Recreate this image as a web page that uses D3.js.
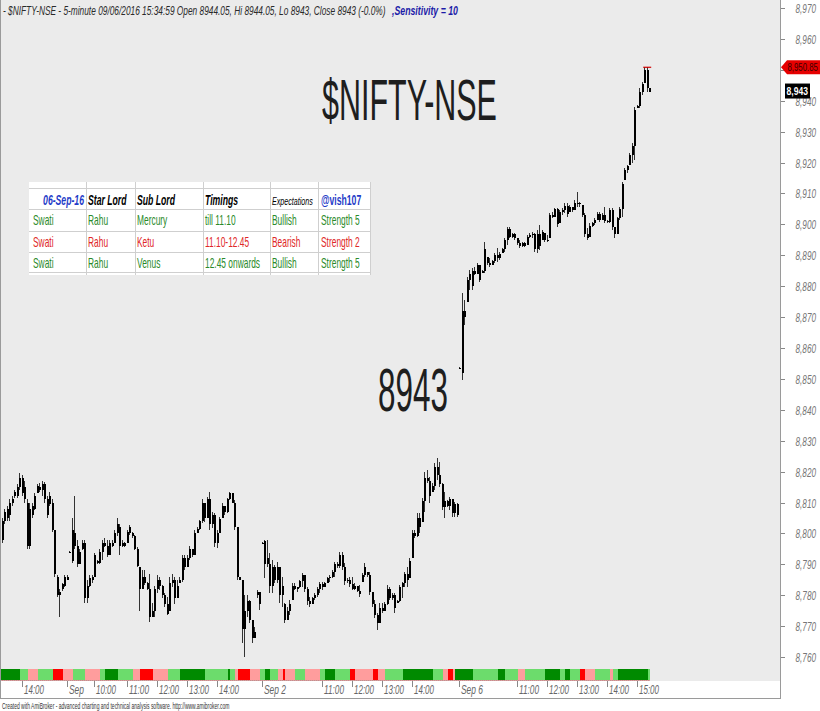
<!DOCTYPE html>
<html><head><meta charset="utf-8">
<script src="https://cdn.jsdelivr.net/npm/d3@7"></script>
<style>body{margin:0;background:#fff}svg{display:block}</style>
</head><body><svg id="c" width="820" height="711"></svg>
<script>
// ---------------- DATA ----------------
const aug31Bars = [
[8798,8805,8797,8804],[8804,8808,8803,8807],[8805,8809,8804,8808],[8806,8811,8804,8810],
[8810,8812,8809,8811],[8812,8814,8811.5,8813.5],[8812,8816,8811.5,8815],[8815,8819.5,8814,8818],
[8818,8819,8812,8813],[8815,8817,8810,8811],[8810,8811,8795,8796],[8796,8810,8795,8808],
[8806,8810,8805,8809],[8808,8813,8807.5,8812],[8813,8816,8813,8815.5],[8815,8816.3,8813.4,8814],
[8814,8817,8812,8816],[8816,8816.5,8810,8811],[8811,8812,8805,8806],[8809.5,8813.5,8809,8812],
[8810,8811,8800.5,8801],[8801,8801,8786,8787],[8786,8786.5,8779.5,8780],[8780,8782,8773,8781],
[8782,8784,8781.5,8783.5],[8783,8786.5,8782.5,8786]
];
const sep1Bars = [
[8785,8786.5,8785,8786],[8794,8794.3,8793.7,8794],[8791,8805,8790.5,8801],[8800,8812,8795,8796],
[8796,8798,8789,8790],[8790,8795,8790,8794],[8795,8798,8794.5,8797],[8797,8798,8777.5,8779],
[8779,8785,8777.5,8783],[8783,8786.5,8782.5,8785.5],[8785,8786.5,8784,8786],[8786,8793.7,8786,8793],
[8791,8791.5,8790,8790.5],[8790.5,8795,8790,8794],[8794,8798,8791.5,8797],[8797,8798.5,8795.5,8796],
[8796,8798,8792.5,8793],[8793,8797.9,8793,8797],[8797,8797.9,8795.6,8796],[8797,8801,8797,8800],
[8800,8805,8799,8803],[8802,8803,8793,8796],[8796,8797.9,8795.6,8797],[8797,8797.2,8795.6,8796],
[8797,8801,8797,8800.5],[8800,8802.7,8799.5,8802],[8800,8800.5,8798.5,8799],[8799,8799.5,8794.6,8795],
[8795,8795.6,8789,8789.5],[8789,8789,8775,8782],[8782,8788,8782,8786],[8786,8788,8783.3,8784],
[8784,8784.3,8781.7,8782],[8782,8787,8771.3,8773],[8773,8777.5,8773,8775],[8775,8783,8773,8782],
[8782,8786.5,8780.7,8785],[8785,8785.9,8781.7,8783],[8783,8783.3,8779,8780],[8780,8780.7,8776.2,8777],
[8777,8779.4,8773.6,8774],[8775,8786,8775,8784],[8784,8787,8782.7,8785],[8785,8786,8777,8779],
[8779,8785,8779,8783],[8784,8786,8783.9,8785],[8785,8793,8784.3,8792],[8792,8793,8788,8789],
[8789,8793,8789,8792],[8792,8796,8791.4,8795],[8795,8795,8792.4,8793],[8793,8801,8793,8800],
[8800,8802,8800,8801.5],[8801.5,8804.3,8801,8804],[8804,8811,8803.4,8810],[8810,8810,8803.7,8805],
[8805,8811.8,8805,8811],[8811,8813.4,8801,8803],[8803,8807,8801.7,8806],[8806,8806.6,8795.6,8797],
[8797,8801,8795.3,8800],[8800,8805.3,8800,8804.5],[8805,8809.8,8805,8809],[8809,8809,8806,8807],
[8807,8811.5,8806.6,8811],[8811,8813.4,8810.8,8813],[8813,8813,8809.8,8810],[8810,8810.8,8801,8802],
[8802,8802,8785,8786],[8785.9,8786,8784.9,8785],[8785,8785,8764.5,8769],[8769,8780,8760,8775],
[8775,8780,8773,8778],[8778,8778.4,8771,8772],[8772,8772,8764.5,8766],[8766,8769.7,8766,8768],
[8780,8781.7,8779,8781],[8781,8781,8775.2,8777]
];
const sep2Bars = [
[8797,8797.2,8796.8,8797],[8797.5,8798,8785.6,8790],[8792,8798,8789,8790],[8790,8793.7,8780.7,8783],
[8783,8791.4,8780.7,8789],[8789,8789.8,8783.9,8785],[8785,8790.7,8784,8789],[8789,8789,8777.5,8780],
[8780,8785.9,8776.2,8783],[8777,8777.5,8771,8772],[8772,8776.2,8772,8775],[8775,8778.4,8773.6,8777],
[8778.4,8783.9,8778.4,8783],[8783,8783.9,8781.7,8782],[8782,8782.7,8781,8782.5],[8782.5,8785,8782.3,8784.5],
[8784.5,8787.2,8782.7,8786.5],[8786.5,8786.5,8781,8782],[8782,8782.7,8776.8,8778],[8778,8779.4,8776.2,8777],
[8777,8779.4,8777,8779],[8779,8780.7,8778.4,8780],[8780,8782.7,8779.4,8782],[8782,8784.3,8780.7,8783.5],
[8783.5,8784.3,8781.7,8782.5],[8782.5,8784.3,8782.5,8784],[8784,8785.9,8783.9,8785.5],[8785.5,8786.5,8784.3,8786],
[8786,8788.2,8785.6,8787.5],[8787.5,8790.7,8785.9,8790],[8790,8790.7,8788.8,8789.5],[8789.5,8794,8788.8,8793],
[8793,8794,8788.2,8789],[8789,8790.4,8783.3,8784.5],[8784.5,8785.6,8783.9,8785],[8785,8785.9,8782.7,8783.5],
[8783.5,8785.9,8781.7,8782],[8782,8783.9,8781.7,8783],[8783,8783,8781,8781.5],[8781.5,8783.3,8779.4,8780.5],
[8784.3,8787.2,8784.3,8786.5],[8786.5,8790.4,8785.9,8789],[8787.5,8787.5,8785.9,8786.5],[8786.5,8787.5,8780.1,8781],
[8781,8781,8776.2,8777],[8777,8778.4,8772.6,8773.5],[8773.5,8774.2,8768.7,8771],[8771,8777.5,8771,8776],
[8776,8777.5,8774.2,8775],[8775,8777.8,8775,8777],[8777,8783.3,8776.8,8782],[8782,8782.7,8778.4,8779],
[8779,8780.7,8778.4,8780],[8780,8780.7,8774.2,8776],[8777.5,8778.4,8777.5,8778],[8778,8783.3,8777.8,8782.5],
[8782.5,8784.3,8779.1,8784],[8784,8787.5,8782.7,8787],[8787,8789.1,8782.7,8785],[8785.6,8792,8785.6,8791],
[8792,8801.1,8792,8800],[8800,8801.1,8798.5,8799],[8799,8806.6,8798.8,8805],[8805,8806.6,8800.1,8802],
[8803.7,8811.5,8803.7,8810.5],[8810.5,8819.9,8806.9,8818],[8818,8820.5,8816.3,8817],[8817,8818.3,8809.8,8812],
[8813.4,8816.3,8813.4,8815.5],[8815.5,8822.8,8814,8821.5],[8821.5,8824.4,8817.3,8819],[8819,8823.1,8815,8816],
[8816,8816.3,8807.6,8808.5],[8808.5,8813.4,8805,8810.5],[8810.5,8810.8,8808.5,8809],[8809,8811.8,8807.6,8811],
[8811,8811,8805.3,8806.5],[8806.5,8810.2,8805.3,8809.5],[8809.5,8809.8,8805.3,8806]
];
const sep6Bars = [
[8853.5,8853.7,8853.3,8853.5],[8852,8877.8,8849.6,8872],[8872,8875.5,8867.4,8870],[8875,8883,8874.9,8882],
[8882,8885.2,8878.8,8884],[8880,8885.9,8878.8,8885],[8885,8886.2,8883.6,8884],[8884,8887.5,8884,8887],
[8887,8887,8881.4,8882],[8884.3,8885.2,8884.3,8885],[8885,8894.3,8884.3,8892],[8889.5,8889.5,8886.9,8887.5],
[8887.5,8889.1,8886.2,8887],[8887,8888.5,8886.9,8888],[8888,8890.7,8887.5,8890],[8890,8892.4,8887.8,8889],
[8889,8891.1,8888.5,8890.5],[8890.7,8892.4,8890.7,8892],[8892,8895.6,8891.1,8895],[8895,8899.2,8893.3,8898.5],
[8898.5,8899.2,8895.6,8896],[8896,8897.2,8895.6,8897],[8897,8897.2,8894.9,8895.5],[8895.5,8895.6,8893.3,8894],
[8894,8894.9,8892.4,8893],[8893,8894.3,8892.7,8894],[8894,8894.3,8892.7,8893],[8893.3,8896.6,8893.3,8896],
[8896,8897.2,8895.6,8896.5],[8896.5,8897.5,8895.6,8897],[8897,8897.2,8891.1,8892],[8892,8898.2,8890.7,8897],
[8897,8899.8,8891.7,8893],[8895,8898.2,8894.9,8897.5],[8897.2,8897.2,8894.3,8895],[8895,8896.6,8894.3,8894.5],
[8895.6,8903.7,8895.6,8903],[8903,8904,8902.1,8902.5],[8902.5,8905.3,8902.4,8905],[8905,8905.3,8899.2,8900],
[8900.5,8904.7,8900.5,8904],[8904,8905.3,8903.1,8904.5],[8904.5,8906.9,8903.7,8906],[8906,8906.9,8902.4,8903.5],
[8904,8906.2,8904,8905.5],[8905.5,8905.6,8904,8904.5],[8904.7,8907.9,8904.7,8907],[8907,8910.5,8905.6,8906.5],
[8906.5,8907.2,8905.6,8907],[8906.2,8906.2,8902.4,8903],[8903,8903.7,8895.9,8897],[8897,8898.8,8894.9,8895.5],
[8895.9,8900.5,8895.9,8899.5],[8899.5,8900.8,8899.2,8900.5],[8900.5,8902.1,8899.8,8901.5],[8901.5,8904,8901.4,8903.5],
[8903.5,8904,8900.8,8901.5],[8901.5,8903.7,8901.4,8903],[8903,8905.6,8900.5,8901],[8901,8901.4,8900.5,8900.8],
[8900.8,8905.3,8900.5,8904.5],[8904.5,8905.3,8898.2,8899],[8899,8899.2,8895.6,8897],[8897,8902.4,8897,8902],
[8902,8905.6,8901.4,8905],[8905,8913.7,8902.4,8913],[8914.4,8918.2,8914.4,8917.5],[8917.5,8919.2,8916.6,8919],
[8919.2,8923.1,8919.2,8922.5],[8922.5,8926.3,8919.9,8925.5],[8925.5,8938,8920.8,8937],[8937.7,8938.6,8937.7,8938.3],
[8938.3,8944.1,8937.7,8943],[8943,8946.1,8941.9,8945.5],[8945.8,8950.85,8945.8,8950],[8950,8950.85,8942.8,8944],
[8944.05,8944.05,8943,8943]
];
// colour strip under the bars: [code, number of bars]
const stripSegments = [
["D",8],["L",3],["P",4],["L",6],["R",4],["P",4],["L",5],["P",6],["L",2],["D",5],["L",6],["P",3],["R",5],
["P",6],["L",5],["D",10],["L",9],["D",1],["L",2],["P",1],["R",5],["P",4],["L",2],["D",2],["L",3],["P",2],
["R",1],["P",4],["L",4],["P",6],["L",2],["D",4],["L",6],["R",2],["P",7],["R",2],["P",3],["L",7],["D",12],
["L",4],["P",2],["R",2],["P",1],["D",7],["L",10],["D",3],["L",5],["P",3],["L",8],["D",6],["L",2],["D",2],
["L",4],["R",2],["P",4],["L",6],["P",1],["L",2],["D",12],["L",1]
];
const stripColors = {D:"#008a00", L:"#6cdc6c", P:"#ff9d9d", R:"#ff0000"};
const xTickIndex = [8,26,37,50,62,74,86,104,128,140,152,164,183,206,218,230,242,254];
const xTickLabel = ["14:00","Sep","10:00","11:00","12:00","13:00","14:00","Sep 2","11:00","12:00","13:00","14:00","Sep 6","11:00","12:00","13:00","14:00","15:00"];
const yTickValues = [8760,8770,8780,8790,8800,8810,8820,8830,8840,8850,8860,8870,8880,8890,8900,8910,8920,8930,8940,8950,8960,8970];
const tableHeader = ["06-Sep-16","Star Lord","Sub Lord","Timings","Expectations","@vish107"];
const tableRows = [
["Swati","Rahu","Mercury","till 11.10","Bullish","Strength 5"],
["Swati","Rahu","Ketu","11.10-12.45","Bearish","Strength 2"],
["Swati","Rahu","Venus","12.45 onwards","Bullish","Strength 5"]
];
const rowMood = ["bull","bear","bull"];
const headerText = "- $NIFTY-NSE - 5-minute 09/06/2016 15:34:59 Open 8944.05, Hi 8944.05, Lo 8943, Close 8943 (-0.0%)";
const sensText = ",Sensitivity = 10";
const titleText = "$NIFTY-NSE";
const priceNote = "8943";
const highMark = 8950.85;
const lastClose = 8943;
const creditText = "Created with AmiBroker - advanced charting and technical analysis software. http://www.amibroker.com";

// ---------------- DRAW ----------------
const FONT = "'Liberation Sans', Arial, sans-serif";
const svg = d3.select("#c").style("font-family", FONT);
const bars = aug31Bars.concat(sep1Bars, sep2Bars, sep6Bars).map((d,i)=>({i,o:d[0],h:d[1],l:d[2],c:d[3]}));
const xs = d3.scaleLinear().domain([0, bars.length-1]).range([1.7, 649.2]);
const ys = d3.scaleLinear().domain([8760, 8970]).range([657, 8.1]);

svg.append("rect").attr("width",820).attr("height",711).attr("fill","#fff");
svg.append("rect").attr("x",1).attr("y",0).attr("width",779).attr("height",681).attr("fill","#ebebeb");

// squeeze a text horizontally to a target width using a transform (keeps its real box)
function fit(t, w){
  const n = t.node().getComputedTextLength();
  const x = +t.attr("x"), y = +t.attr("y");
  return t.attr("x",0).attr("y",0).attr("transform",`translate(${x},${y}) scale(${w/n},1)`);
}

// strip
const cells = [];
stripSegments.forEach(([code,n])=>{ for(let j=0;j<n;j++) cells.push(code); });
svg.append("g").selectAll("rect").data(cells).join("rect")
  .attr("x",(d,i)=>xs(i)-1.25).attr("width",2.5).attr("y",669).attr("height",11)
  .attr("fill",d=>stripColors[d]).attr("shape-rendering","crispEdges");
svg.append("line").attr("x1",xs(0)-1.25).attr("x2",xs(bars.length-1)+1.25).attr("y1",680.5).attr("y2",680.5)
  .attr("stroke","#b04040").attr("stroke-dasharray","1,1");

// table
const tb = svg.append("g");
tb.append("rect").attr("x",29).attr("y",182).attr("width",341).attr("height",93).attr("fill","#fff");
[188,209,231,252,272].forEach(y=>tb.append("line").attr("x1",29).attr("x2",370).attr("y1",y+0.5).attr("y2",y+0.5).attr("stroke","#cfcfcf"));
[86,135,203,270,318,370].forEach(x=>tb.append("line").attr("x1",x+0.5).attr("x2",x+0.5).attr("y1",182).attr("y2",275).attr("stroke","#cfcfcf"));
const colX = [33,88,137,205,272,321];
const rowY = [225,246.5,267.5];
function cellText(txt,x,y,sx,size,opts){
  const t = tb.append("text").attr("transform",`translate(${x},${y}) scale(${sx},1)`)
    .attr("font-size",size).text(txt);
  Object.entries(opts||{}).forEach(([k,v])=>t.attr(k,v));
  return t;
}
tableHeader.forEach((h,j)=>{
  if(j===0) cellText(h,84,205,0.62,14,{"font-weight":"bold","font-style":"italic",fill:"#1f3cc8","text-anchor":"end"});
  else if(j===4) cellText(h,colX[j],205,0.62,11.5,{"font-style":"italic",fill:"#000"});
  else if(j===5) cellText(h,colX[j],205,0.62,14,{"font-weight":"bold",fill:"#1f3cc8"});
  else cellText(h,colX[j],205,0.62,14,{"font-weight":"bold","font-style":"italic",fill:"#000"});
});
tableRows.forEach((r,i)=>{
  const col = rowMood[i]==="bull" ? "#2a8a2a" : "#e02828";
  r.forEach((v,j)=>cellText(v,colX[j],rowY[i],0.6,14,{fill:col}));
});

// candles
const cg = svg.append("g").attr("shape-rendering","crispEdges");
cg.selectAll("line").data(bars).join("line")
  .attr("x1",d=>Math.round(xs(d.i))+0.5).attr("x2",d=>Math.round(xs(d.i))+0.5)
  .attr("y1",d=>ys(d.h)).attr("y2",d=>ys(d.l)).attr("stroke","#333");
cg.selectAll("rect").data(bars).join("rect")
  .attr("x",d=>Math.round(xs(d.i))).attr("width",2)
  .attr("y",d=>ys(Math.max(d.o,d.c))).attr("height",d=>Math.max(1,Math.abs(ys(d.o)-ys(d.c))))
  .attr("fill","#000");
// high marker line
const hi = bars.findIndex(d=>d.h===highMark);
svg.append("line").attr("x1",xs(hi)-1).attr("x2",xs(bars.length-1)+2).attr("y1",ys(highMark)).attr("y2",ys(highMark))
  .attr("stroke","#d00000").attr("stroke-width",1.2);

// titles
fit(svg.append("text").attr("x",3).attr("y",15).attr("font-size",13).attr("font-style","italic").attr("fill","#2a2a2a").text(headerText),383);
fit(svg.append("text").attr("x",392).attr("y",15).attr("font-size",13).attr("font-style","italic").attr("font-weight","bold").attr("fill","#1c1ca8").text(sensText),66);
fit(svg.append("text").attr("x",322).attr("y",120).attr("font-size",58).attr("fill","#1e1e1e").text(titleText),175);
fit(svg.append("text").attr("x",378).attr("y",411).attr("font-size",62).attr("fill","#1e1e1e").text(priceNote),70);

// frame lines
svg.append("line").attr("x1",780.5).attr("x2",780.5).attr("y1",0).attr("y2",699).attr("stroke","#9a9a9a");
svg.append("line").attr("x1",0.5).attr("x2",0.5).attr("y1",0).attr("y2",699).attr("stroke","#9a9a9a");
svg.append("line").attr("x1",0).attr("x2",781).attr("y1",698.5).attr("y2",698.5).attr("stroke","#9a9a9a");

// x axis
const xa = svg.append("g");
xTickIndex.forEach((k,j)=>{
  const x = Math.round(xs(k))+0.5;
  xa.append("line").attr("x1",x).attr("x2",x).attr("y1",681).attr("y2",687).attr("stroke","#888");
  const lab = xTickLabel[j];
  const w = lab.length===3 ? 15 : (lab.startsWith("Sep") ? 22 : 20);
  fit(xa.append("text").attr("x",x+1.5).attr("y",694).attr("font-size",12).attr("font-style","italic").attr("fill","#666").text(lab), w);
});

// y axis (the 8,950 label sits under the red last-high marker, as in the source)
const ya = svg.append("g");
const fmt = d3.format(",");
const yh = ys(highMark), yc = ys(lastClose);
yTickValues.forEach(v=>{
  const y = Math.round(ys(v))+0.5;
  ya.append("line").attr("x1",781).attr("x2",785).attr("y1",y).attr("y2",y).attr("stroke","#888");
  if (Math.abs(ys(v)-yh) < 8) return;
  fit(ya.append("text").attr("x",795.5).attr("y",y+4).attr("font-size",12).attr("font-style","italic").attr("fill","#777").text(fmt(v)),20.5);
});

// price markers
svg.append("path").attr("d",`M781,${yh} L787,${yh-7} L820,${yh-7} L820,${yh+7} L787,${yh+7} Z`).attr("fill","#e60000");
fit(svg.append("text").attr("x",787.5).attr("y",yh+4).attr("font-size",11).attr("fill","#3a0000").text(d3.format(",.2f")(highMark)),30.5);
svg.append("rect").attr("x",785).attr("y",yc-8).attr("width",25).attr("height",15).attr("fill","#000");
fit(svg.append("text").attr("x",786.5).attr("y",yc+3.5).attr("font-size",11.5).attr("font-weight","bold").attr("fill","#fff").text(fmt(lastClose)),21.5);

// credit
fit(svg.append("text").attr("x",2).attr("y",708.5).attr("font-size",8.5).attr("fill","#333").text(creditText),228);
</script></body></html>
